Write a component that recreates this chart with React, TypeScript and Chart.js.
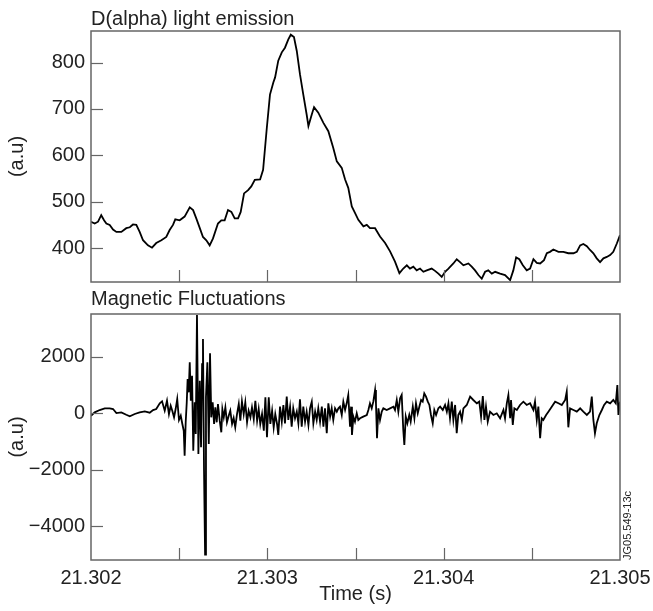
import React, { useEffect, useRef } from "react";
import { Chart, registerables } from "chart.js";

Chart.register(...registerables);

// ---- Data ----
// time offsets in microseconds from 21.302 s
const dAlphaTimeUs = [
  0, 21, 40, 58, 74, 87, 106, 125, 144, 172,
  200, 220, 238, 257, 276, 295, 323, 346, 370, 399,
  427, 446, 465, 478, 503, 531, 560, 579, 597, 617,
  635, 654, 673, 692, 720, 739, 758, 777, 796, 815,
  834, 849, 868, 891, 909, 929, 959, 976, 997, 1015,
  1034, 1044, 1062, 1082, 1100, 1119, 1133, 1151, 1167, 1185,
  1204, 1223, 1233, 1252, 1265, 1289, 1318, 1346, 1374, 1394,
  1422, 1441, 1459, 1479, 1497, 1516, 1545, 1564, 1582, 1611,
  1639, 1668, 1696, 1724, 1749, 1771, 1791, 1809, 1828, 1847,
  1866, 1885, 1904, 1932, 1951, 1970, 1989, 2008, 2027, 2055,
  2074, 2093, 2112, 2140, 2159, 2178, 2197, 2216, 2235, 2253,
  2273, 2292, 2320, 2348, 2377, 2395, 2411, 2429, 2449, 2471,
  2490, 2509, 2528, 2547, 2569, 2585, 2603, 2622, 2651, 2679,
  2707, 2736, 2755, 2774, 2792, 2812, 2830, 2849, 2868, 2887,
  2906, 2925, 2944, 2962, 2982, 3000,
];
const dAlphaValues = [
  457, 453, 457, 471, 460, 453, 450, 440, 435, 435,
  443, 445, 451, 450, 435, 417, 406, 401, 411, 417,
  424, 439, 450, 462, 460, 468, 488, 482, 464, 443,
  424, 417, 406, 421, 453, 460, 460, 482, 478, 464,
  464, 478, 518, 525, 533, 547, 548, 569, 659, 731,
  757, 768, 804, 822, 832, 850, 860, 855, 825, 775,
  731, 688, 663, 688, 704, 692, 670, 652, 616, 587,
  573, 548, 530, 490, 476, 461, 447, 450, 443, 443,
  425, 411, 393, 371, 346, 356, 363, 356, 360, 352,
  356, 349, 352, 356, 351, 345, 338, 349, 356, 367,
  376, 370, 363, 367, 360, 352, 342, 334, 349, 352,
  345, 349, 345, 342, 331, 352, 380, 376, 363, 352,
  356, 376, 368, 367, 374, 389, 392, 397, 392, 392,
  389, 389, 392, 406, 409, 404, 396, 389, 378, 370,
  378, 381, 385, 392, 410, 428,
];

const magTimeUs = [
  0, 21, 49, 78, 106, 125, 144, 172, 200, 220,
  248, 276, 305, 333, 352, 370, 390, 403, 418, 431,
  442, 452, 461, 471, 480, 489, 499, 509, 518, 526,
  531, 537, 543, 548, 554, 560, 566, 573, 580, 588,
  594, 601, 609, 617, 624, 630, 635, 641, 647, 652,
  660, 668, 675, 682, 690, 698, 705, 713, 720, 730,
  739, 745, 753, 762, 771, 781, 790, 800, 809, 818,
  828, 838, 847, 856, 866, 875, 885, 894, 904, 913,
  923, 932, 942, 951, 960, 970, 980, 989, 998, 1008,
  1017, 1027, 1036, 1045, 1055, 1062, 1072, 1082, 1091, 1100,
  1110, 1119, 1129, 1138, 1147, 1157, 1167, 1176, 1185, 1195,
  1204, 1214, 1223, 1233, 1242, 1252, 1261, 1271, 1280, 1289,
  1299, 1309, 1318, 1327, 1337, 1346, 1356, 1365, 1374, 1384,
  1394, 1403, 1412, 1422, 1431, 1441, 1450, 1459, 1469, 1475,
  1480, 1488, 1497, 1507, 1516, 1526, 1544, 1564, 1573, 1582,
  1592, 1601, 1611, 1616, 1622, 1630, 1639, 1649, 1658, 1677,
  1696, 1715, 1724, 1734, 1743, 1753, 1762, 1771, 1777, 1785,
  1794, 1805, 1813, 1825, 1834, 1843, 1853, 1862, 1872, 1881,
  1890, 1900, 1910, 1919, 1928, 1938, 1947, 1957, 1970, 1980,
  1995, 2008, 2018, 2027, 2036, 2046, 2055, 2065, 2074, 2083,
  2093, 2103, 2112, 2131, 2150, 2168, 2188, 2202, 2212, 2222,
  2231, 2240, 2250, 2263, 2282, 2301, 2320, 2339, 2348, 2358,
  2367, 2377, 2382, 2392, 2401, 2415, 2433, 2452, 2471, 2490,
  2509, 2518, 2528, 2537, 2547, 2556, 2565, 2581, 2594, 2613,
  2632, 2651, 2670, 2689, 2698, 2707, 2717, 2736, 2755, 2774,
  2792, 2812, 2830, 2840, 2849, 2858, 2868, 2883, 2897, 2910,
  2925, 2944, 2962, 2976, 2985, 2991, 3000,
];
const magValues = [
  -85, 35, 117, 177, 177, 152, 10, 35, -50, -106,
  -25, 35, 71, 21, 117, 152, 355, 425, 92, 447,
  -25, 270, 92, -142, 152, 507, -238, -85, -379, -617,
  -1504, -319, 390, 1216, 745, 1809, 447, 1333, -1326, 390,
  -734, 3486, -1443, 1156, -1206, 1748, 2635, -2035, -5014, 567,
  1809, -1089, 2128, -142, 390, -379, 213, -319, 330, -262,
  -674, 152, -142, 213, -319, -85, 92, -379, -167, -496,
  -25, 330, -262, 425, -25, 390, -319, 92, -142, 213,
  -202, 447, -262, 152, -379, -25, -617, 567, -851, 567,
  -379, 92, -496, -25, -379, -768, 236, -296, 296, -355,
  591, -236, 236, -473, 177, -177, 59, -355, 496, -473,
  236, -296, 59, -414, 177, 414, -355, 59, -236, 177,
  -296, 236, -473, 177, -709, 355, -118, 177, -236, 177,
  59, 177, 236, -59, 414, 118, 355, 650, -473, 236,
  -768, -118, -296, 0, -236, -177, -118, -59, 118, 355,
  177, 414, 827, 355, -886, 177, -236, 59, 177, 118,
  177, 236, 118, 473, 59, 532, 650, -591, -1123, -118,
  -355, -59, -296, 236, -177, 355, 0, 236, 473, 414,
  709, 591, 414, 296, -59, -355, 118, -59, 177, 236,
  118, 296, 59, 355, -177, 414, -236, 296, -709, -59,
  59, -236, 177, 296, 591, 473, 355, 414, -118, 615,
  -236, 236, -296, 59, -59, 0, -177, 118, -177, 355,
  650, -177, 473, -414, 177, 118, 296, 414, 296, 355,
  118, 414, -236, 236, -886, -177, -236, -59, 59, 236,
  414, 355, 296, 473, 768, -496, 177, 118, 59, 177,
  59, -59, 59, 591, -236, -709, -355, -59, 118, 296,
  414, 355, 473, 355, 1005, -59, 414,
];

const xTickValues = [0, 500, 1000, 1500, 2000, 2500, 3000];
const xTickLabels = ["21.302", "", "21.303", "", "21.304", "", "21.305"];
const topYTicks = [400, 500, 600, 700, 800];
const bottomYTicks = [-4000, -2000, 0, 2000];

const FONT = "'Liberation Sans', Arial, Helvetica, sans-serif";
const TEXT = "#222";
const FRAME = "#666";

const framePlugin = {
  id: "frame",
  afterDraw(chart: any, _args: any, opts: any) {
    const { ctx, chartArea } = chart;
    const { left, right, top, bottom } = chartArea;
    ctx.save();
    ctx.strokeStyle = FRAME;
    ctx.lineWidth = 1.5;
    ctx.strokeRect(left, top, right - left, bottom - top);
    ctx.lineWidth = 1.2;
    const ys = chart.scales.y;
    ys.ticks.forEach((t: any) => {
      const py = Math.round(ys.getPixelForValue(t.value)) + 0.5;
      ctx.beginPath();
      ctx.moveTo(left, py);
      ctx.lineTo(left + 12, py);
      ctx.stroke();
    });
    const xs = chart.scales.x;
    xs.ticks.forEach((t: any) => {
      if (t.value <= 0 || t.value >= 3000) return;
      const px = Math.round(xs.getPixelForValue(t.value)) + 0.5;
      ctx.beginPath();
      ctx.moveTo(px, bottom);
      ctx.lineTo(px, bottom - 12);
      ctx.stroke();
    });
    ctx.fillStyle = TEXT;
    ctx.font = `20px ${FONT}`;
    ctx.textAlign = "left";
    ctx.textBaseline = "alphabetic";
    if (opts.title) ctx.fillText(opts.title, left, opts.titleY);
    if (opts.yTitle) {
      ctx.save();
      ctx.translate(17, (top + bottom) / 2);
      ctx.rotate(-Math.PI / 2);
      ctx.textAlign = "center";
      ctx.textBaseline = "middle";
      ctx.fillText(opts.yTitle, 0, 0);
      ctx.restore();
    }
    if (opts.xTitle) {
      ctx.textAlign = "center";
      ctx.fillText(opts.xTitle, (left + right) / 2, opts.xTitleY);
    }
    if (opts.stamp) {
      ctx.save();
      ctx.font = `11px ${FONT}`;
      ctx.translate(628, bottom);
      ctx.rotate(-Math.PI / 2);
      ctx.textAlign = "left";
      ctx.textBaseline = "middle";
      ctx.fillText(opts.stamp, 0, 0);
      ctx.restore();
    }
    ctx.restore();
  },
};

function makeConfig(
  times: number[],
  values: number[],
  yMin: number,
  yMax: number,
  yTicks: number[],
  padTop: number,
  xHeight: number,
  showXLabels: boolean,
  frameOpts: any
): any {
  return {
    type: "line",
    data: {
      datasets: [
        {
          data: times.map((t, i) => ({ x: t, y: values[i] })),
          borderColor: "#000",
          borderWidth: 1.8,
          pointRadius: 0,
          tension: 0,
          fill: false,
        },
      ],
    },
    options: {
      animation: false,
      responsive: false,
      devicePixelRatio: 1,
      layout: { padding: { top: padTop, right: 33, left: 0, bottom: 0 } },
      plugins: {
        legend: { display: false },
        tooltip: { enabled: false },
        frame: frameOpts,
      },
      scales: {
        x: {
          type: "linear",
          min: 0,
          max: 3000,
          grid: { display: false, drawTicks: false },
          border: { display: false },
          afterBuildTicks: (s: any) => {
            s.ticks = xTickValues.map((v) => ({ value: v }));
          },
          afterFit: (s: any) => {
            s.height = xHeight;
            s.paddingLeft = 0;
            s.paddingRight = 0;
          },
          ticks: {
            display: showXLabels,
            autoSkip: false,
            maxRotation: 0,
            padding: 6,
            color: TEXT,
            font: { family: FONT, size: 20 },
            callback: (v: number) => {
              const i = xTickValues.indexOf(v);
              return i >= 0 ? xTickLabels[i] : "";
            },
          },
        },
        y: {
          type: "linear",
          min: yMin,
          max: yMax,
          grid: { display: false, drawTicks: false },
          border: { display: false },
          afterBuildTicks: (s: any) => {
            s.ticks = yTicks.map((v) => ({ value: v }));
          },
          afterFit: (s: any) => {
            s.width = 91;
            s.paddingTop = 0;
            s.paddingBottom = 0;
          },
          ticks: {
            padding: 6,
            color: TEXT,
            font: { family: FONT, size: 20 },
            callback: (v: number) => (v < 0 ? "\u2212" + Math.abs(v) : String(v)),
          },
        },
      },
    },
    plugins: [framePlugin],
  };
}

export default function App() {
  const topRef = useRef<HTMLCanvasElement>(null);
  const botRef = useRef<HTMLCanvasElement>(null);

  useEffect(() => {
    const c1 = new Chart(
      topRef.current as HTMLCanvasElement,
      makeConfig(dAlphaTimeUs, dAlphaValues, 327, 868, topYTicks, 31, 8, false, {
        title: "D(alpha) light emission",
        titleY: 25,
        yTitle: "(a.u)",
      })
    );
    const c2 = new Chart(
      botRef.current as HTMLCanvasElement,
      makeConfig(magTimeUs, magValues, -5206, 3525, bottomYTicks, 24, 51, true, {
        title: "Magnetic Fluctuations",
        titleY: 15,
        yTitle: "(a.u)",
        xTitle: "Time (s)",
        xTitleY: 310,
        stamp: "JG05.549-13c",
      })
    );
    return () => {
      c1.destroy();
      c2.destroy();
    };
  }, []);

  return (
    <div style={{ position: "absolute", left: 0, top: 0, width: 653, height: 611, background: "#fff" }}>
      <canvas ref={topRef} width={653} height={290} style={{ position: "absolute", left: 0, top: 0, display: "block" }} />
      <canvas ref={botRef} width={653} height={321} style={{ position: "absolute", left: 0, top: 290, display: "block" }} />
    </div>
  );
}
